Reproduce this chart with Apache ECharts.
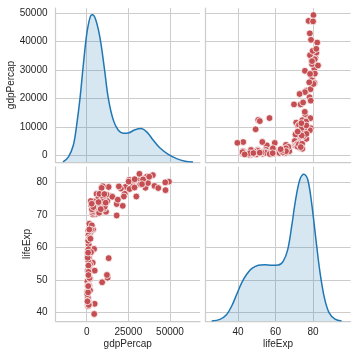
<!DOCTYPE html>
<html><head><meta charset="utf-8">
<script src="https://cdn.jsdelivr.net/npm/echarts@6/dist/echarts.min.js"></script>
<style>html,body{margin:0;padding:0;background:#fff}#c{width:357px;height:357px}</style>
</head><body><div id="c"></div>
<script>
const gdpPercap = [974.58, 5937.03, 6223.37, 4797.23, 12779.38, 34435.37, 36126.49, 29796.05, 1391.25, 33692.61, 1441.28, 3822.14, 7446.30, 12569.85, 9065.80, 10680.79, 1217.03, 430.07, 1713.78, 2042.10, 36319.24, 706.02, 1704.06, 13171.64, 4959.11, 7006.58, 986.15, 277.55, 3632.56, 9645.06, 1544.75, 14619.22, 8948.10, 22833.31, 35278.42, 2082.48, 6025.37, 6873.26, 5581.18, 5728.35, 12154.09, 641.37, 690.81, 33207.08, 30470.02, 13206.48, 752.75, 32170.37, 1327.61, 27538.41, 5186.05, 942.65, 579.23, 1201.64, 3548.33, 39724.98, 18008.94, 36180.79, 2452.21, 3540.65, 11605.71, 4471.06, 40675.00, 25523.28, 28569.72, 7320.88, 31656.07, 4519.46, 1463.25, 1593.07, 23348.14, 47306.99, 10461.06, 1569.33, 414.51, 12057.50, 1044.77, 759.35, 12451.66, 1042.58, 1803.15, 10956.99, 11977.57, 3095.77, 9253.90, 3820.18, 823.69, 944.00, 4811.06, 1091.36, 36797.93, 25185.01, 2749.32, 619.68, 2013.98, 49357.19, 22316.19, 2605.95, 9809.19, 4172.84, 7408.91, 3190.48, 15389.92, 20509.65, 19328.71, 7670.12, 10808.48, 863.09, 1598.44, 21654.83, 1712.47, 9786.53, 862.54, 47143.18, 18678.31, 25768.26, 926.14, 9269.66, 28821.06, 3970.10, 2602.39, 4513.48, 33859.75, 37506.42, 4184.55, 28718.28, 1107.48, 7458.40, 882.97, 18008.51, 7092.92, 8458.28, 1056.38, 33203.26, 42951.65, 10611.46, 11415.81, 2441.58, 3025.35, 2280.77, 1271.21, 469.71];
const lifeExp = [43.828, 76.423, 72.301, 42.731, 75.32, 81.235, 79.829, 75.635, 64.062, 79.441, 56.728, 65.554, 74.852, 50.728, 72.39, 73.005, 52.295, 49.58, 59.723, 50.43, 80.653, 44.741, 50.651, 78.553, 72.961, 72.889, 65.152, 46.462, 55.322, 78.782, 48.328, 75.748, 78.273, 76.486, 78.332, 54.791, 72.235, 74.994, 71.338, 71.878, 51.579, 58.04, 52.947, 79.313, 80.657, 56.735, 59.448, 79.406, 60.022, 79.483, 70.259, 56.007, 46.388, 60.916, 70.198, 82.208, 73.338, 81.757, 64.698, 70.65, 70.964, 59.545, 78.885, 80.745, 80.546, 72.567, 82.603, 72.535, 54.11, 67.297, 78.623, 77.588, 71.993, 42.592, 45.678, 73.952, 59.443, 48.303, 74.241, 54.467, 64.164, 72.801, 76.195, 66.803, 74.543, 71.164, 42.082, 62.069, 52.906, 63.785, 79.762, 80.204, 72.899, 56.867, 46.859, 80.196, 75.64, 65.483, 75.537, 71.752, 71.421, 71.688, 75.563, 78.098, 78.746, 76.442, 72.476, 46.242, 65.528, 72.777, 63.062, 74.002, 42.568, 79.972, 74.663, 77.926, 48.159, 49.339, 80.941, 72.396, 58.556, 39.613, 80.884, 81.701, 74.143, 78.4, 52.517, 70.616, 58.42, 69.819, 73.923, 71.777, 51.542, 79.425, 78.242, 76.384, 73.747, 74.249, 73.422, 62.698, 42.384, 43.487];

const gdpKdeX = [-14200, -11000, -8000, -6000, -4000, -2000, 0, 2000, 3400, 5400, 8000, 10600, 13000, 16000, 19000, 22000, 25000, 29000, 32600, 36000, 40000, 44000, 49000, 54000, 59000, 63800];
const gdpKdeY = [0, 0.033, 0.113, 0.25, 0.432, 0.66, 0.865, 0.98, 1.0, 0.968, 0.843, 0.637, 0.432, 0.284, 0.215, 0.195, 0.197, 0.218, 0.227, 0.204, 0.147, 0.094, 0.051, 0.022, 0.005, 0];
const lifeKdeX = [25.9, 30.3, 33.9, 36.6, 39.2, 41.9, 44.6, 47.2, 50.8, 54.3, 57.9, 61.4, 64.1, 66.5, 68.6, 70.7, 73.0, 75.1, 77.1, 79.2, 81.5, 83.7, 86.0, 88.5, 91.7, 95.2];
const lifeKdeY = [0, 0.011, 0.045, 0.102, 0.18, 0.26, 0.318, 0.356, 0.379, 0.383, 0.379, 0.381, 0.408, 0.488, 0.647, 0.828, 0.965, 1.0, 0.965, 0.805, 0.556, 0.329, 0.159, 0.057, 0.012, 0];

const gdpTicksX = [0, 25000, 50000];
const gdpTicksY = [0, 10000, 20000, 30000, 40000, 50000];
const lifeTicksX = [40, 60, 80];
const lifeTicksY = [40, 50, 60, 70, 80];

const FONT = "'Liberation Sans', Arial, 'DejaVu Sans', sans-serif";
const GRID = '#cccccc';
const TXT = '#262626';

function axis(gridIndex, pos, min, max, ticks, showLabels, name, nameGap) {
  return {
    type: 'value', gridIndex: gridIndex, position: pos, min: min, max: max,
    axisLine: {show: true, onZero: false, lineStyle: {color: GRID, width: 1.25}},
    axisTick: {show: false, customValues: ticks},
    axisLabel: {show: showLabels, customValues: ticks, color: TXT, fontSize: 10, fontFamily: FONT,
      margin: pos === 'left' ? 8 : 6, formatter: v => String(v)},
    splitLine: {show: true, lineStyle: {color: GRID, width: 1}},
    name: name || '', nameLocation: 'middle', nameGap: nameGap || 0,
    nameTextStyle: {color: TXT, fontSize: 10, fontFamily: FONT}
  };
}

const gdpX = [-18700, 68000];
const lifeX = [22.5, 100];
const gdpY = [-2177, 51811];
const lifeY = [37.46, 84.75];

const option = {
  animation: false,
  backgroundColor: '#ffffff',
  grid: [
    {left: 55.5, top: 8.1, width: 144.5, height: 153.8},
    {left: 205.3, top: 8.1, width: 145.3, height: 153.8},
    {left: 55.5, top: 166.8, width: 144.5, height: 154.2},
    {left: 205.3, top: 166.8, width: 145.3, height: 154.2}
  ],
  xAxis: [
    axis(0, 'bottom', gdpX[0], gdpX[1], gdpTicksX, false),
    axis(1, 'bottom', lifeX[0], lifeX[1], lifeTicksX, false),
    axis(2, 'bottom', gdpX[0], gdpX[1], gdpTicksX, true, 'gdpPercap', 18),
    axis(3, 'bottom', lifeX[0], lifeX[1], lifeTicksX, true, 'lifeExp', 18)
  ],
  yAxis: [
    axis(0, 'left', gdpY[0], gdpY[1], gdpTicksY, true, 'gdpPercap', 37),
    {type: 'value', gridIndex: 0, min: 0, max: 1.045, show: false},
    axis(1, 'left', gdpY[0], gdpY[1], gdpTicksY, false),
    axis(2, 'left', lifeY[0], lifeY[1], lifeTicksY, true, 'lifeExp', 20),
    axis(3, 'left', lifeY[0], lifeY[1], lifeTicksY, false),
    {type: 'value', gridIndex: 3, min: 0, max: 1.05, show: false}
  ],
  series: [
    {type: 'line', xAxisIndex: 0, yAxisIndex: 1, symbol: 'none', smooth: 0.35,
      data: gdpKdeX.map((x, i) => [x, gdpKdeY[i]]),
      lineStyle: {color: '#1f77b4', width: 1.5}, areaStyle: {color: 'rgba(31,119,180,0.25)'}},
    {type: 'scatter', xAxisIndex: 1, yAxisIndex: 2, symbolSize: 6.8,
      data: lifeExp.map((v, i) => [v, gdpPercap[i]]),
      itemStyle: {color: '#c44e52', borderColor: '#ffffff', borderWidth: 0.75, opacity: 1}},
    {type: 'scatter', xAxisIndex: 2, yAxisIndex: 3, symbolSize: 6.8,
      data: gdpPercap.map((v, i) => [v, lifeExp[i]]),
      itemStyle: {color: '#c44e52', borderColor: '#ffffff', borderWidth: 0.75, opacity: 1}},
    {type: 'line', xAxisIndex: 3, yAxisIndex: 5, symbol: 'none', smooth: 0.35,
      data: lifeKdeX.map((x, i) => [x, lifeKdeY[i]]),
      lineStyle: {color: '#1f77b4', width: 1.5}, areaStyle: {color: 'rgba(31,119,180,0.25)'}}
  ]
};
const chart = echarts.init(document.getElementById('c'), null, {renderer: 'canvas'});
chart.setOption(option);
</script></body></html>
